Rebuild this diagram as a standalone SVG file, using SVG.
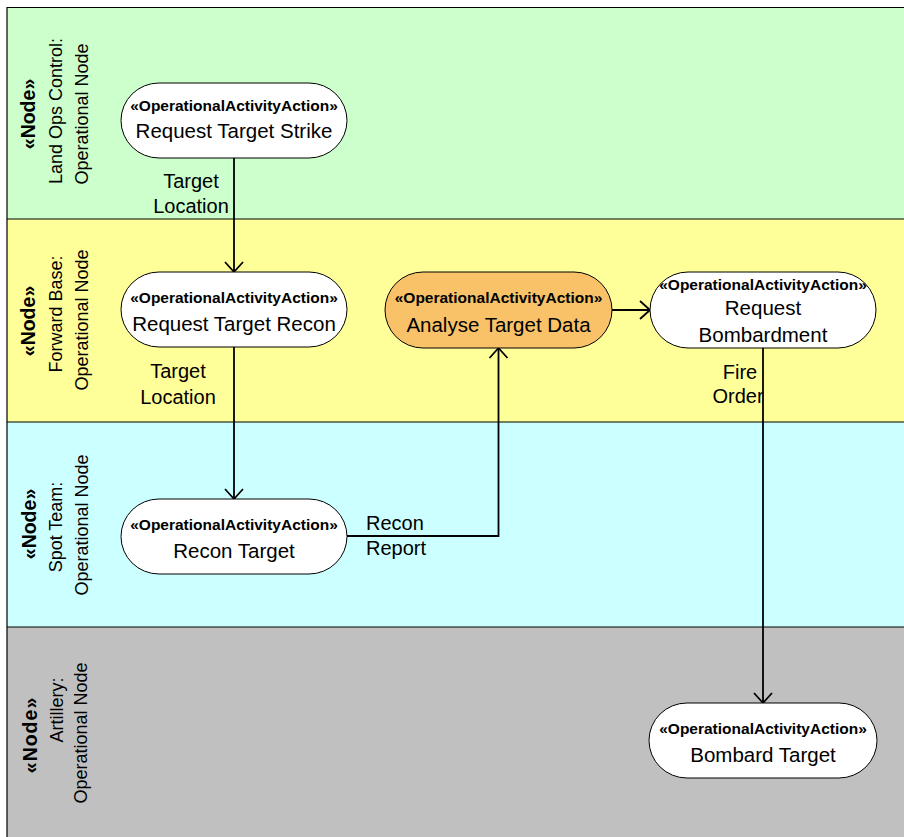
<svg xmlns="http://www.w3.org/2000/svg" width="904" height="837" viewBox="0 0 904 837">
<defs>
<style>
.lane{fill:none;stroke:#000;stroke-width:1.2}
.node{fill:#fff;stroke:#000;stroke-width:1}
.hl{fill:#F9C268}
.st{font-family:"Liberation Sans",Arial,sans-serif;font-weight:bold;font-size:15.5px;fill:#000;text-anchor:middle}
.nm{font-family:"Liberation Sans",Arial,sans-serif;font-size:20.5px;fill:#000;text-anchor:middle}
.lb{font-family:"Liberation Sans",Arial,sans-serif;font-size:20px;fill:#000}
.ln{font-family:"Liberation Sans",Arial,sans-serif;font-size:18px;fill:#000;text-anchor:middle}
.lnb{font-family:"Liberation Sans",Arial,sans-serif;font-size:19.5px;font-weight:bold;fill:#000;text-anchor:middle}
.conn{fill:none;stroke:#000;stroke-width:1.8}
</style>
<marker id="arr" markerUnits="userSpaceOnUse" markerWidth="24" markerHeight="24" viewBox="-12 -12 24 24" refX="0" refY="0" orient="auto">
<path d="M-10,-9 L0,0 L-10,9" fill="none" stroke="#000" stroke-width="1.8"/>
</marker>
</defs>
<rect x="0" y="0" width="904" height="837" fill="#fff"/>
<g id="lanes">
<g id="lane-land-ops">
<rect x="7" y="7" width="897" height="212" fill="#CCFFCC"/>
<text class="lnb" transform="translate(35,114) rotate(-90)">«Node»</text>
<text class="ln" transform="translate(62,111) rotate(-90)">Land Ops Control:</text>
<text class="ln" transform="translate(88,114) rotate(-90)">Operational Node</text>
</g>
<g id="lane-forward-base">
<rect x="7" y="219" width="897" height="203" fill="#FFFF99"/>
<text class="lnb" transform="translate(35,321) rotate(-90)">«Node»</text>
<text class="ln" transform="translate(62,314) rotate(-90)">Forward Base:</text>
<text class="ln" transform="translate(88,320) rotate(-90)">Operational Node</text>
</g>
<g id="lane-spot-team">
<rect x="7" y="422" width="897" height="205" fill="#CCFFFF"/>
<text class="lnb" transform="translate(36,524) rotate(-90)">«Node»</text>
<text class="ln" transform="translate(62,527) rotate(-90)">Spot Team:</text>
<text class="ln" transform="translate(88,525) rotate(-90)">Operational Node</text>
</g>
<g id="lane-artillery">
<rect x="7" y="627" width="897" height="210" fill="#C0C0C0"/>
<text class="lnb" transform="translate(37,735) rotate(-90)" letter-spacing="1">«Node»</text>
<text class="ln" transform="translate(63,710) rotate(-90)">Artillery:</text>
<text class="ln" transform="translate(87,733) rotate(-90)">Operational Node</text>
</g>
<path class="lane" d="M7,837 V7.5 H904 M7,219 H904 M7,422 H904 M7,627 H904"/>
</g>
<g id="connectors">
<path class="conn" d="M234,158 V272" marker-end="url(#arr)"/>
<text class="lb" x="191" y="188" text-anchor="middle">Target</text>
<text class="lb" x="191" y="213" text-anchor="middle">Location</text>
<path class="conn" d="M234,347 V499" marker-end="url(#arr)"/>
<text class="lb" x="178" y="378" text-anchor="middle">Target</text>
<text class="lb" x="178" y="404" text-anchor="middle">Location</text>
<path class="conn" d="M347,536 H498.5 V348" marker-end="url(#arr)"/>
<text class="lb" x="366" y="530">Recon</text>
<text class="lb" x="366" y="555">Report</text>
<path class="conn" d="M612,310 H650" marker-end="url(#arr)"/>
<path class="conn" d="M763,348 V703" marker-end="url(#arr)"/>
<text class="lb" x="740" y="379" text-anchor="middle">Fire</text>
<text class="lb" x="738" y="403" text-anchor="middle">Order</text>
</g>
<g id="node-request-target-strike">
<rect class="node" x="121" y="83" width="226" height="75" rx="38" ry="37.5"/>
<text class="st" x="234" y="111">«OperationalActivityAction»</text>
<text class="nm" x="234" y="138">Request Target Strike</text>
</g>
<g id="node-request-target-recon">
<rect class="node" x="121" y="272" width="226" height="75" rx="38" ry="37.5"/>
<text class="st" x="234" y="303">«OperationalActivityAction»</text>
<text class="nm" x="234" y="331">Request Target Recon</text>
</g>
<g id="node-analyse-target-data">
<rect class="node hl" x="385" y="272" width="227" height="76" rx="38" ry="38"/>
<text class="st" x="498.5" y="303">«OperationalActivityAction»</text>
<text class="nm" x="498.5" y="332">Analyse Target Data</text>
</g>
<g id="node-request-bombardment">
<rect class="node" x="650" y="272" width="226" height="76" rx="38" ry="38"/>
<text class="st" x="763" y="290">«OperationalActivityAction»</text>
<text class="nm" x="763" y="315">Request</text>
<text class="nm" x="763" y="342">Bombardment</text>
</g>
<g id="node-recon-target">
<rect class="node" x="121" y="499" width="226" height="75" rx="38" ry="37.5"/>
<text class="st" x="234" y="530">«OperationalActivityAction»</text>
<text class="nm" x="234" y="558">Recon Target</text>
</g>
<g id="node-bombard-target">
<rect class="node" x="649" y="703" width="228" height="75" rx="38" ry="37.5"/>
<text class="st" x="763" y="734">«OperationalActivityAction»</text>
<text class="nm" x="763" y="762">Bombard Target</text>
</g>
</svg>
